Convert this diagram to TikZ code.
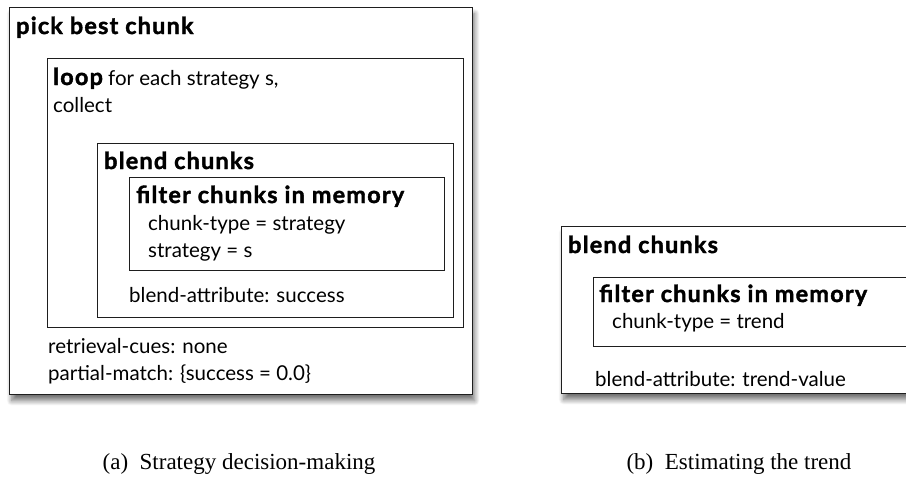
\documentclass[tikz,border=0pt]{standalone}
\usepackage{fontspec}
\setmainfont{Lato}[BoldFeatures={FakeBold=1.6, LetterSpace=5}]
\newfontfamily\capfont{Liberation Serif}
\usepackage{tikz}
\usetikzlibrary{shadows.blur}
\definecolor{frame}{RGB}{30,30,30}
\newcommand{\boxfont}{\fontsize{20.5}{24}\selectfont}
\newcommand{\titlefont}{\fontsize{23.5}{26}\selectfont\bfseries}
\tikzset{
  chunkbox/.style={draw=frame, line width=1.1pt, fill=white, anchor=north west, inner sep=0pt},
  outerbox/.style={chunkbox, line width=1.4pt, blur shadow={shadow xshift=2pt, shadow yshift=-6pt, shadow blur radius=5pt, shadow blur steps=10, shadow opacity=55}},
  boxtext/.style={anchor=base west, inner sep=0pt, font=\boxfont},
  boxtitle/.style={anchor=base west, inner sep=0pt, font=\titlefont},
  subcap/.style={anchor=base, inner sep=0pt, font=\capfont\fontsize{23}{26}\selectfont}
}

\begin{document}
\begin{tikzpicture}[x=1pt, y=-1pt]
\useasboundingbox (0,0) rectangle (906,477);
\clip (0,0) rectangle (906,477);
% (a) strategy decision-making
\node[outerbox, minimum width=463, minimum height=387] (pick) at (9,7) {};
\node[chunkbox, minimum width=416, minimum height=269] (loop) at (47,58) {};
\node[chunkbox, minimum width=356, minimum height=174] (blendA) at (97,143) {};
\node[chunkbox, minimum width=315, minimum height=93] (filterA) at (129,177) {};
\node[boxtitle] (pickT) at (16,34) {pick best chunk};
\node[boxtext] (loopT) at (53,85) {{\titlefont loop} for each strategy s,};
\node[boxtext] (loopC) at (53,112) {collect};
\node[boxtitle] (blendAT) at (104,169) {blend chunks};
\node[boxtitle] (filterAT) at (136,203) {filter chunks in memory};
\node[boxtext] (filterA1) at (148,230) {chunk-type = strategy};
\node[boxtext] (filterA2) at (148,257) {strategy = s};
\node[boxtext] (blendAattr) at (129,302) {blend-attribute: success};
\node[boxtext] (cues) at (48,353) {retrieval-cues: none};
\node[boxtext] (partial) at (48,380) {partial-match: \{success = 0.0\}};
% (b) estimating the trend
\node[outerbox, minimum width=400, minimum height=167] (blendB) at (561,226) {};
\node[chunkbox, minimum width=350, minimum height=69] (filterB) at (593,277) {};
\node[boxtitle] (blendBT) at (568,253) {blend chunks};
\node[boxtitle] (filterBT) at (599,302) {filter chunks in memory};
\node[boxtext] (filterB1) at (612,328) {chunk-type = trend};
\node[boxtext] (blendBattr) at (595,386) {blend-attribute: trend-value};
% captions
\node[subcap] (capA) at (239,469) {(a)\hspace{0.5em}Strategy decision-making};
\node[subcap] (capB) at (739,469) {(b)\hspace{0.5em}Estimating the trend};
\end{tikzpicture}
\end{document}
